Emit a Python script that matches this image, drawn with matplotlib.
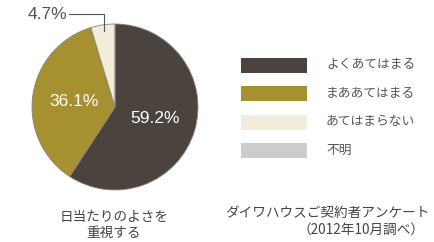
import numpy as np
import matplotlib.pyplot as plt

plt.rcParams['font.family'] = ['Noto Sans CJK JP', 'DejaVu Sans']

categories = ['よくあてはまる', 'まああてはまる', 'あてはまらない', '不明']
values = [59.2, 36.1, 4.7, 0.0]
colors = ['#4b433e', '#a69030', '#f2ecda', '#cccccc']
caption = '日当たりのよさを\n重視する'
source1 = 'ダイワハウスご契約者アンケート'
source2 = '（2012年10月調べ）'

W, H = 435, 242
fig = plt.figure(figsize=(W / 100, H / 100), dpi=100)
ax = fig.add_axes([0, 0, 1, 1])

cx, cy, R = 115, H - 107, 83
wedges, _ = ax.pie(values, colors=colors, startangle=90, counterclock=False,
                   center=(cx, cy), radius=R, frame=True,
                   wedgeprops=dict(edgecolor='#8a8580', linewidth=0.6))
ax.set_xlim(0, W)
ax.set_ylim(0, H)
ax.set_aspect('equal')
ax.axis('off')

# percentage labels inside the big wedges
for w, v in zip(wedges[:2], values[:2]):
    ang = np.deg2rad((w.theta1 + w.theta2) / 2)
    r = 0.5 * R
    ax.text(cx + r * np.cos(ang), cy + r * np.sin(ang), f'{v:.1f}%',
            color='white', fontsize=12.5, ha='center', va='center',
            family=['Liberation Sans', 'DejaVu Sans'])

# leader for the small slice
w = wedges[2]
ang = np.deg2rad((w.theta1 + w.theta2) / 2)
px, py = cx + 0.93 * R * np.cos(ang), cy + 0.93 * R * np.sin(ang)
ax.plot([px, px, 69], [py, H - 14, H - 14], color='#555555', lw=0.8)
ax.text(67, H - 14, f'{values[2]:.1f}%', color='#555555', fontsize=12.5,
        ha='right', va='center', family=['Liberation Sans', 'DejaVu Sans'])

# legend
for i, (c, lab) in enumerate(zip(colors, categories)):
    y = H - (65 + i * 28.5)
    ax.add_patch(plt.Rectangle((241, y - 7.5), 66, 15, facecolor=c, edgecolor='none'))
    ax.text(326, y, lab, fontsize=9.2, color='#555555', va='center', ha='left')

ax.text(114, H - 225, caption, fontsize=9.8, color='#444444', ha='center',
        va='center', linespacing=1.25)
ax.text(327, H - 213, source1, fontsize=9.8, color='#444444', ha='center', va='center')
ax.text(361, H - 230, source2, fontsize=9.8, color='#444444', ha='center', va='center')

fig.savefig('out.png', dpi=100)
